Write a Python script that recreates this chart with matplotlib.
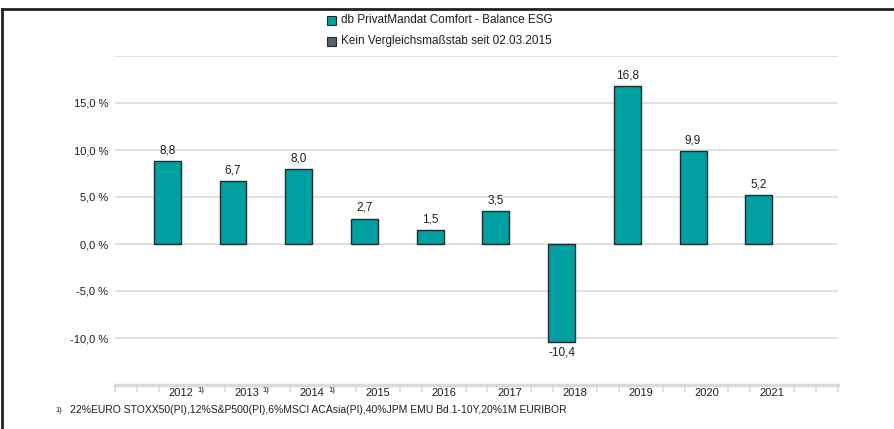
import matplotlib
matplotlib.use("Agg")
import matplotlib.pyplot as plt
from matplotlib.lines import Line2D
from matplotlib.patches import Rectangle
import numpy as np

# Data
YEARS = ["2012", "2013", "2014", "2015", "2016", "2017", "2018", "2019", "2020", "2021"]
FUND_RETURNS = [8.8, 6.7, 8.0, 2.7, 1.5, 3.5, -10.4, 16.8, 9.9, 5.2]
FOOTNOTE_YEARS = ["2012", "2013", "2014"]
Y_TICKS = [-10, -5, 0, 5, 10, 15]
LEGEND_LABELS = ["db PrivatMandat Comfort - Balance ESG",
                 "Kein Vergleichsmaßstab seit 02.03.2015"]
FOOTNOTE = "22%EURO STOXX50(PI),12%S&P500(PI),6%MSCI ACAsia(PI),40%JPM EMU Bd.1-10Y,20%1M EURIBOR"

FUND_COLOR = "#009fa1"
BENCH_COLOR = "#56616b"
EDGE_COLOR = "#1f2a2a"
GRID_COLOR = "#dedad3"
TEXT_COLOR = "#1e1e1e"

plt.rcParams['font.family'] = ['Liberation Sans', 'DejaVu Sans']

W, H = 895, 429
fig = plt.figure(figsize=(W / 100, H / 100), dpi=100)
fig.patch.set_facecolor("white")

def fx(px):
    return px / W

def fy(py):
    return 1 - py / H

ax = fig.add_axes([fx(115), fy(385), fx(838) - fx(115), fy(56) - fy(385)])
ax.set_xlim(-1, 10)
ax.set_ylim(-15, 20)

x = np.arange(len(YEARS))
bar_w = 0.41
ax.bar(x, FUND_RETURNS, width=-bar_w, align='edge', color=FUND_COLOR,
       edgecolor=EDGE_COLOR, linewidth=1.0, zorder=3)

for xi, v in zip(x, FUND_RETURNS):
    label = f"{v:.1f}".replace(".", ",")
    if v >= 0:
        ax.text(xi - bar_w / 2, v + 0.5, label, ha='center', va='bottom',
                fontsize=8.5, color=TEXT_COLOR)
    else:
        ax.text(xi - bar_w / 2, v - 0.5, label, ha='center', va='top',
                fontsize=8.5, color=TEXT_COLOR)

# horizontal grid
for g in [-10, -5, 0, 5, 10, 15, 20]:
    ax.axhline(g, color=GRID_COLOR, linewidth=1.2, zorder=1)

for spine in ax.spines.values():
    spine.set_visible(False)

ax.set_yticks(Y_TICKS)
ax.set_yticklabels([f"{t:.1f}".replace(".", ",") + " %" for t in Y_TICKS])
ax.tick_params(axis='y', length=0, pad=5, labelsize=8, labelcolor=TEXT_COLOR)

# bottom axis line with minor ticks
ax.axhline(-15, color=GRID_COLOR, linewidth=2.5, zorder=2, clip_on=False)
minor = [m for m in np.arange(-1, 10.001, 1 / 3) if abs(m - round(m)) > 0.01 or round(m) in (-1, 10)]
ax.set_xticks(minor)
ax.set_xticklabels([])
ax.tick_params(axis='x', length=5, width=1.2, color=GRID_COLOR, direction='out')

for xi, year in zip(x, YEARS):
    ax.text(xi, -15.35, year, ha='center', va='top', fontsize=8, color=TEXT_COLOR)
    if year in FOOTNOTE_YEARS:
        ax.text(xi + 0.3, -15.25, "1)", ha='center', va='top', fontsize=5.5,
                color=TEXT_COLOR)

# legend
for i, (lab, col) in enumerate(zip(LEGEND_LABELS, [FUND_COLOR, BENCH_COLOR])):
    cy = 20 + 21 * i
    fig.patches.append(Rectangle((fx(327), fy(cy + 5)), fx(9), 9 / H,
                                 facecolor=col, edgecolor=EDGE_COLOR, linewidth=0.8,
                                 transform=fig.transFigure))
    fig.text(fx(341), fy(cy), lab, ha='left', va='center', fontsize=8.5,
             color=TEXT_COLOR)

# footnote
fig.text(fx(55), fy(410), "1)", ha='left', va='center', fontsize=5.5, color=TEXT_COLOR)
fig.text(fx(70), fy(410), FOOTNOTE, ha='left', va='center', fontsize=7.5,
         color=TEXT_COLOR)

# frame
fig.lines.append(Line2D([fx(2), 1], [fy(9), fy(9)], color="#222222", linewidth=2,
                        transform=fig.transFigure))
fig.lines.append(Line2D([fx(2), fx(2)], [fy(9), 0], color="#222222", linewidth=2,
                        transform=fig.transFigure))

fig.savefig("out.png", dpi=100, facecolor="white")
